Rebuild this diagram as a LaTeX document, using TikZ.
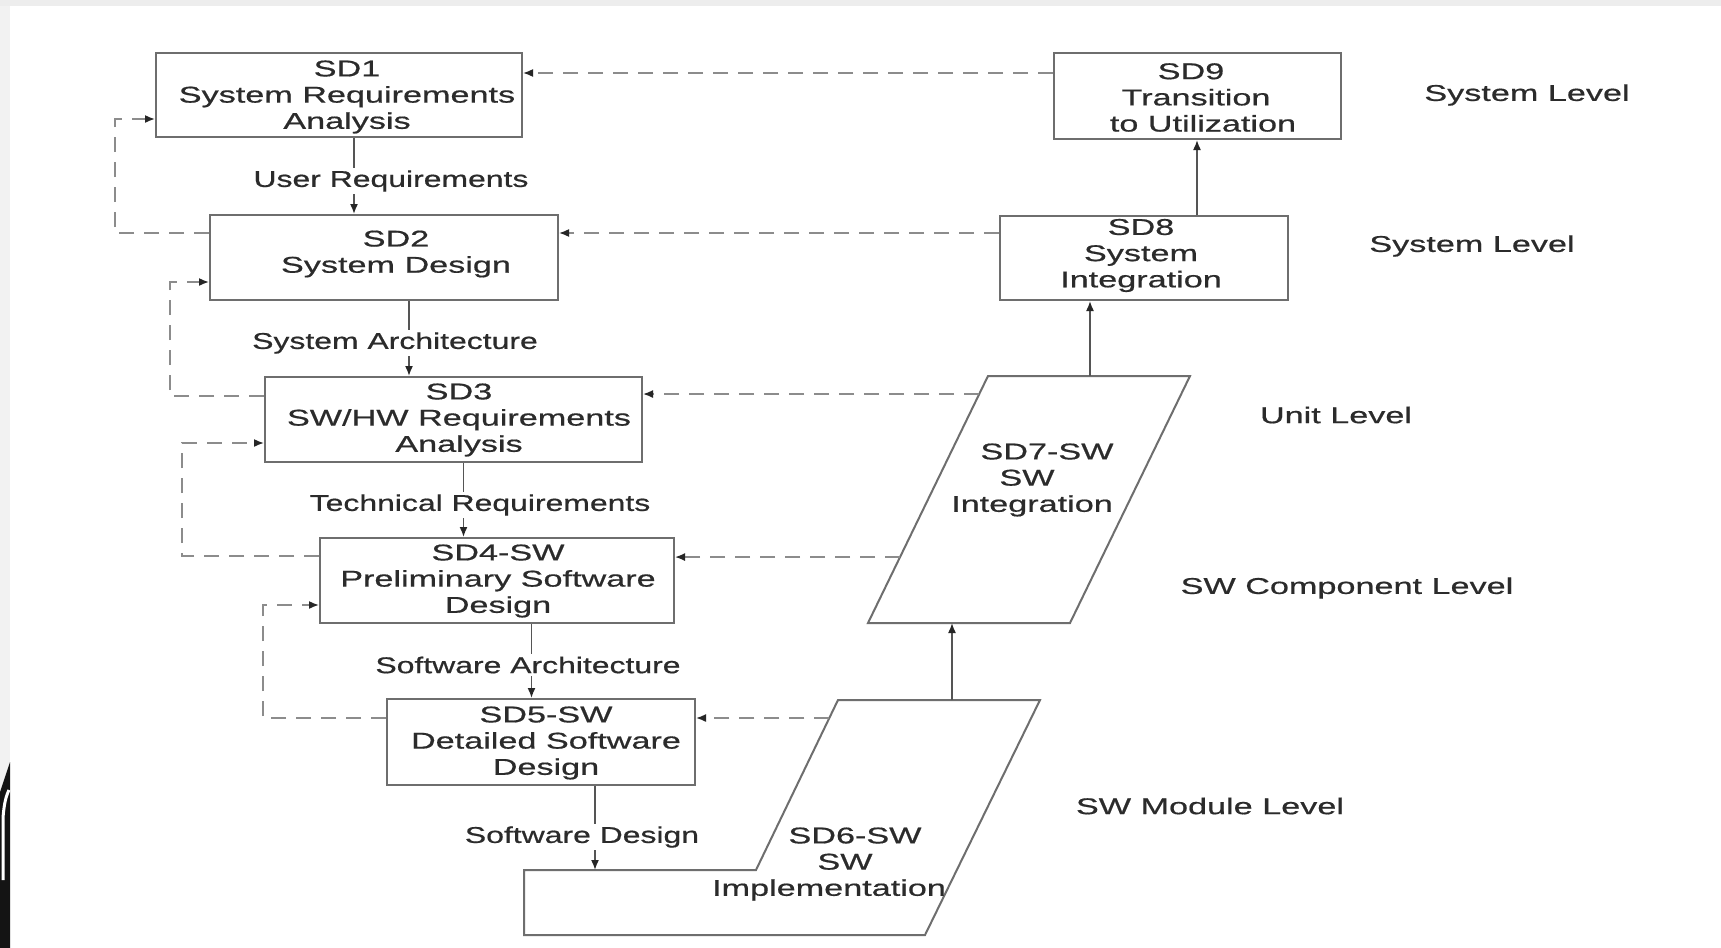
\documentclass[tikz,border=0pt]{standalone}
\usepackage{fontspec}
\setmainfont{Liberation Sans}[FakeStretch=1.40,FakeBold=0.6]
\newfontfamily\wideface{Liberation Sans}[FakeStretch=1.50,FakeBold=0.6]
\usetikzlibrary{arrows.meta,calc}
\definecolor{boxgray}{HTML}{6E6E6E}
\definecolor{txtgray}{HTML}{2B2B2B}
\definecolor{linegray}{HTML}{555555}
\definecolor{dashgray}{HTML}{8C8C8C}
\tikzset{
  sdbox/.style={draw=boxgray, line width=1pt, inner sep=0pt},
  sdtext/.style={align=center, inner sep=0pt, text=txtgray, font=\wideface\fontsize{11.4pt}{13.1pt}\selectfont},
  lbl/.style={fill=white, inner sep=1.2pt, text=txtgray, font=\fontsize{11.4pt}{13.1pt}\selectfont},
  lvl/.style={inner sep=0pt, text=txtgray, font=\wideface\fontsize{11.4pt}{13.1pt}\selectfont},
  shape7/.style={draw=boxgray, line width=1pt},
  flow/.style={draw=linegray, line width=0.8pt, -{Latex[length=5pt,width=4pt,color=black!85]}},
  fb/.style={draw=dashgray, line width=0.8pt, dash pattern=on 7.5pt off 5pt, -{Latex[length=5pt,width=4pt,color=black!85]}}
}
\begin{document}
\begin{tikzpicture}[x=0.5pt,y=-0.5pt]
\useasboundingbox (0,0) rectangle (1721,948);
\fill[white] (0,0) rectangle (1721,948);
\fill[black!7] (0,0) rectangle (1721,6);
\fill[black!5] (0,6) rectangle (10,948);
\fill[black!92] (0,792) -- (10,762) -- (10,948) -- (0,948) -- cycle;
\draw[white, line width=1.5pt] (3,880) -- (3,818) .. controls (4,804) and (6,796) .. (9,790);

% boxes
\node[sdbox, minimum width=183pt, minimum height=42pt] (sd1) at (339,95) {};
\node[sdbox, minimum width=174pt, minimum height=42.5pt] (sd2) at (384,257.5) {};
\node[sdbox, minimum width=188.5pt, minimum height=42.5pt] (sd3) at (453.5,419.5) {};
\node[sdbox, minimum width=177pt, minimum height=42.5pt] (sd4) at (497,580.5) {};
\node[sdbox, minimum width=154pt, minimum height=43pt] (sd5) at (541,742) {};
\node[sdbox, minimum width=144pt, minimum height=42pt] (sd8) at (1144,258) {};
\node[sdbox, minimum width=143.5pt, minimum height=43pt] (sd9) at (1197.5,96) {};

% box texts
\node[sdtext] (t1) at (347,97) {SD1\\System Requirements\\Analysis};
\node[sdtext] (t2) at (396,254) {SD2\\System Design};
\node[sdtext] (t3) at (459,420) {SD3\\SW/HW Requirements\\Analysis};
\node[sdtext] (t4) at (498,581) {SD4-SW\\Preliminary Software\\Design};
\node[sdtext] (t5) at (546,743) {SD5-SW\\Detailed Software\\Design};
\node[sdtext] (t8) at (1141,255.5) {SD8\\System\\Integration};
\node[sdtext] (t9) at (1196,97.5) {SD9\hspace*{5pt}\\Transition\\\hspace*{7pt}to Utilization};

% parallelogram SD7
\coordinate (p7tl) at (988,376);
\coordinate (p7tr) at (1190,376);
\coordinate (p7br) at (1070,623);
\coordinate (p7bl) at (868,623);
\draw[shape7] (p7tl) -- (p7tr) -- (p7br) -- (p7bl) -- cycle;
\node[sdtext] (t7) at (1027,480) {\hspace*{20pt}SD7-SW\\SW\\\hspace*{5pt}Integration};

% SD6 shape
\coordinate (p6a) at (524,870);
\coordinate (p6ml) at (756,870);
\coordinate (p6tl) at (838,700);
\coordinate (p6tr) at (1040,700);
\coordinate (p6br) at (925,935);
\coordinate (p6bl) at (524,935);
\draw[shape7] (p6a) -- (p6ml) -- (p6tl) -- (p6tr) -- (p6br) -- (p6bl) -- cycle;
\node[sdtext] (t6) at (845,864) {\hspace*{10pt}SD6-SW\\SW\\Implementation\hspace*{16pt}};

% downward chain
\draw[flow] ([xshift=7.5pt]sd1.south) -- ([xshift=-15pt]sd2.north);
\node[lbl] (l12) at (391,181) {User Requirements};
\draw[flow] ([xshift=12.5pt]sd2.south) -- ([xshift=-22.25pt]sd3.north);
\node[lbl] (l23) at (395,343) {System Architecture};
\draw[flow] ([xshift=5pt]sd3.south) -- ([xshift=-16.75pt]sd4.north);
\node[lbl] (l34) at (480,505) {Technical Requirements};
\draw[flow] ([xshift=17.25pt]sd4.south) -- ([xshift=-4.75pt]sd5.north);
\node[lbl] (l45) at (528,665) {Software Architecture};
\coordinate (sd6in) at (595,870);
\draw[flow] ([xshift=27pt]sd5.south) -- (sd6in);
\node[lbl] (l56) at (582,837) {Software Design};

% upward chain
\coordinate (a67) at (952,700);
\draw[flow] (a67) -- (a67 |- p7bl);
\coordinate (a78) at (1090,376);
\draw[flow] (a78) -- (a78 |- sd8.south);
\draw[flow] ([xshift=26.5pt]sd8.north) -- ([xshift=26.5pt]sd8.north |- sd9.south);

% feedback dashed (right to left)
\draw[fb] ([yshift=11.5pt]sd9.west) -- ([yshift=11.5pt]sd9.west -| sd1.east);
\draw[fb] ([yshift=12.5pt]sd8.west) -- ([yshift=12.5pt]sd8.west -| sd2.east);
\coordinate (f73) at ($(p7tl)!0.073!(p7bl)$);
\draw[fb] (f73) -- (f73 -| sd3.east);
\coordinate (f74) at ($(p7tl)!0.733!(p7bl)$);
\draw[fb] (f74) -- (f74 -| sd4.east);
\coordinate (f65) at ($(p6tl)!0.106!(p6ml)$);
\draw[fb] (f65) -- (f65 -| sd5.east);

% left loops
\draw[fb] ([yshift=12.25pt]sd2.west) -| (115,119) -- ([yshift=-12pt]sd1.west);
\draw[fb] ([yshift=11.75pt]sd3.west) -| (170,282) -- ([yshift=-12.25pt]sd2.west);
\draw[fb] ([yshift=12.25pt]sd4.west) -| (182,443) -- ([yshift=-11.75pt]sd3.west);
\draw[fb] ([yshift=12pt]sd5.west) -| (263,605) -- ([yshift=-12.25pt]sd4.west);

% level labels
\node[lvl] (lv1) at (1527,95) {System Level};
\node[lvl] (lv2) at (1472,246) {System Level};
\node[lvl] (lv3) at (1336,415) {Unit Level};
\node[lvl] (lv4) at (1347,588) {SW Component Level};
\node[lvl] (lv5) at (1210,806) {SW Module Level};
\end{tikzpicture}
\end{document}
